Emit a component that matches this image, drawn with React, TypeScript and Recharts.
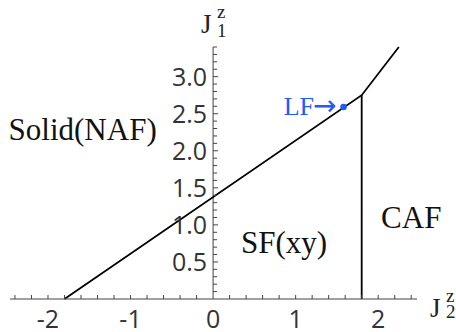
import React from 'react';
import { ComposedChart, XAxis, YAxis, Line, Scatter, ReferenceLine } from 'recharts';

const xMajorTicks = [-2, -1, 0, 1, 2];
const xMinorTicks = [-2.4, -2.2, -2.0, -1.8, -1.6, -1.4, -1.2, -1.0, -0.8, -0.6, -0.4, -0.2, 0.2, 0.4, 0.6, 0.8, 1.0, 1.2, 1.4, 1.6, 1.8, 2.0, 2.2, 2.4];
const yMajorTicks = [0.5, 1.0, 1.5, 2.0, 2.5, 3.0];
const yMajorLabels = ['0.5', '1.0', '1.5', '2.0', '2.5', '3.0'];
const yMinorTicks = [0.1, 0.2, 0.3, 0.4, 0.6, 0.7, 0.8, 0.9, 1.1, 1.2, 1.3, 1.4, 1.6, 1.7, 1.8, 1.9, 2.1, 2.2, 2.3, 2.4, 2.6, 2.7, 2.8, 2.9, 3.1, 3.2, 3.3, 3.4];

const boundaryMain = [
  { x: -1.8, y: 0 },
  { x: 1.8, y: 2.75 },
  { x: 2.25, y: 3.4 },
];
const boundaryVertical = [
  { x: 1.8, y: 0 },
  { x: 1.8, y: 2.75 },
];
const lfPoint = [{ x: 1.58, y: 2.59, name: 'LF', arrow: '→' }];
const regionLabels = [
  { x: -1.58, y: 2.15, name: 'Solid(NAF)' },
  { x: 0.86, y: 0.62, name: 'SF(xy)' },
  { x: 2.4, y: 0.96, name: 'CAF' },
];

const xDomain: [number, number] = [-2.46, 2.47];
const yDomain: [number, number] = [0, 3.4];

const AXIS = '#444';
const TICK_FONT = "'Open Sans', sans-serif";
const SERIF = "'Liberation Serif', 'Times New Roman', serif";
const BLUE = '#1f5cff';

const yMajorData = yMajorTicks.map((v, i) => ({ x: 0, y: v, label: yMajorLabels[i] }));
const yMinorData = yMinorTicks.map((v) => ({ x: 0, y: v }));
const xMinorData = xMinorTicks.map((v) => ({ x: v, y: 0 }));

const YMajorShape = (p: any) => (
  <g>
    <line x1={p.cx} y1={p.cy} x2={p.cx + 5} y2={p.cy} stroke={AXIS} strokeWidth={1} />
    <text x={p.cx - 6} y={p.cy} dy={9} textAnchor="end" fontSize={25} fontFamily={TICK_FONT} fill="#333">
      {p.payload.label}
    </text>
  </g>
);
const YMinorShape = (p: any) => (
  <line x1={p.cx} y1={p.cy} x2={p.cx + 4} y2={p.cy} stroke={AXIS} strokeWidth={1} />
);
const XMinorShape = (p: any) => (
  <line x1={p.cx} y1={p.cy} x2={p.cx} y2={p.cy - 4} stroke={AXIS} strokeWidth={1} />
);
const RegionShape = (p: any) => (
  <text x={p.cx} y={p.cy} textAnchor="middle" fontSize={31} fontFamily={SERIF} fill="#111">
    {p.payload.name}
  </text>
);
const LfShape = (p: any) => (
  <g>
    <circle cx={p.cx} cy={p.cy} r={3.3} fill={BLUE} />
    <text x={p.cx - 7} y={p.cy + 8} textAnchor="end" fontSize={26} fontFamily={SERIF} fill={BLUE}>
      {p.payload.name}
      <tspan fontFamily="'DejaVu Sans', sans-serif" fontSize={28} dx={-1}>{p.payload.arrow}</tspan>
    </text>
  </g>
);

const YAxisLabel = (props: any) => {
  const vb = props.viewBox || {};
  const x = vb.x;
  const y = vb.y;
  return (
    <g fontFamily={SERIF} fill="#222">
      <text x={x - 12} y={y - 14} fontSize={27}>J</text>
      <text x={x + 4} y={y - 29} fontSize={19}>z</text>
      <text x={x + 4} y={y - 10} fontSize={19}>1</text>
    </g>
  );
};

const XAxisLabel = (props: any) => {
  const vb = props.viewBox || {};
  const x = vb.x + vb.width;
  const y = vb.y;
  return (
    <g fontFamily={SERIF} fill="#222">
      <text x={x + 13} y={y + 18} fontSize={27}>J</text>
      <text x={x + 29} y={y + 3} fontSize={19}>z</text>
      <text x={x + 29} y={y + 19} fontSize={19}>2</text>
    </g>
  );
};

export default function App() {
  return (
    <div style={{ position: 'absolute', left: 0, top: 0, width: 456, height: 332 }}>
      <ComposedChart width={456} height={332} margin={{ top: 47, right: 39, bottom: 0, left: 10 }}>
        <XAxis
          type="number"
          dataKey="x"
          domain={xDomain}
          ticks={xMajorTicks}
          interval={0}
          tickFormatter={(v: number) => String(v)}
          tickLine={false}
          tickSize={0}
          tickMargin={11}
          height={33}
          axisLine={{ stroke: AXIS, strokeWidth: 1 }}
          tick={{ fontSize: 25, fontFamily: TICK_FONT, fill: '#333' }}
          label={<XAxisLabel />}
        />
        <YAxis type="number" dataKey="y" domain={yDomain} hide />
        <ReferenceLine x={0} stroke={AXIS} strokeWidth={1} label={<YAxisLabel />} />
        <Scatter data={yMinorData} shape={YMinorShape} isAnimationActive={false} />
        <Scatter data={yMajorData} shape={YMajorShape} isAnimationActive={false} />
        <Scatter data={xMinorData} shape={XMinorShape} isAnimationActive={false} />
        <Line data={boundaryMain} dataKey="y" stroke="#000" strokeWidth={1.8} dot={false} isAnimationActive={false} />
        <Line data={boundaryVertical} dataKey="y" stroke="#000" strokeWidth={1.8} dot={false} isAnimationActive={false} />
        <Scatter data={lfPoint} shape={LfShape} isAnimationActive={false} />
        <Scatter data={regionLabels} shape={RegionShape} isAnimationActive={false} />
      </ComposedChart>
    </div>
  );
}
